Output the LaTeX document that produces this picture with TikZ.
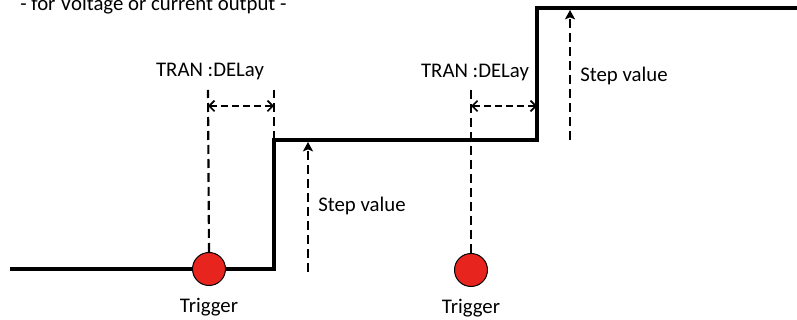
\documentclass[tikz,border=0pt]{standalone}
\usepackage{fontspec}
\setmainfont{Carlito}
\usetikzlibrary{arrows.meta}
\usetikzlibrary{positioning}
\definecolor{trigred}{RGB}{232,36,30}
\tikzstyle{wave} = [line width=2.6pt, line join=miter]
\tikzstyle{guide} = [line width=1.6pt, dash pattern=on 6.75pt off 3.75pt]
\tikzstyle{delayarrow} = [line width=1.2pt, dash pattern=on 5.25pt off 3pt, {Straight Barb[length=4pt,width=8pt]}-{Straight Barb[length=4pt,width=8pt]}]
\tikzstyle{steparrow} = [line width=1.6pt, dash pattern=on 6.75pt off 3.75pt, -{Stealth[length=7pt,width=7.5pt,inset=1.5pt]}]

\begin{document}
\begin{tikzpicture}[
x=0.75pt, y=-0.75pt,
font=\fontsize{15.6}{18}\selectfont,
trignode/.style={circle, draw=black, fill=trigred, line width=0.75pt, minimum size=24.75pt, inner sep=0pt},
lbl/.style={inner sep=0pt},
]
\useasboundingbox (0,0) rectangle (797,320);

%Waveform corners
\coordinate (w0) at (10,269);
\coordinate (w1) at (274,269);
\coordinate (w2) at (274,140);
\coordinate (w3) at (537,140);
\coordinate (w4) at (537,8);
\coordinate (w5) at (797,8);

%Nodes
\node[lbl, anchor=base west] (title) at (20,11) {- for Voltage or current output -};
\draw[wave] (w0) -- (w1) -- (w2) -- (w3) -- (w4) -- (w5);
\node[trignode] (trig1) at (209,269) {};
\node[trignode] (trig2) at (471,270) {};
\node[lbl, below=9pt of trig1] (trig1lbl) {Trigger};
\node[lbl, below=9pt of trig2] (trig2lbl) {Trigger};
\coordinate (t1top) at (208,90);
\coordinate (t2top) at (471,89);
\coordinate (e1top) at (274,90);
\coordinate (d1a) at (208,106);
\coordinate (d1b) at (274,106);
\coordinate (d2a) at (471,106);
\coordinate (d2b) at (537,106);
\node[lbl, anchor=base] (delay1) at (210,77) {TRAN :DELay};
\node[lbl, anchor=base] (delay2) at (475,78) {TRAN :DELay};
\coordinate (s1low) at (308,272);
\coordinate (s1high) at (308,142);
\coordinate (s2low) at (570,140);
\coordinate (s2high) at (570,10);
\node[lbl, anchor=base west] (step1) at (318,212) {Step value};
\node[lbl, anchor=base west] (step2) at (580,82) {Step value};

%Lines
\draw[guide] (trig1.north) -- (t1top);
\draw[guide] (trig2.north) -- (t2top);
\draw[guide] (w2) -- (e1top);
\draw[delayarrow] (d1a) -- (d1b);
\draw[delayarrow] (d2a) -- (d2b);
\draw[steparrow] (s1low) -- (s1high);
\draw[steparrow] (s2low) -- (s2high);

\end{tikzpicture}
\end{document}
